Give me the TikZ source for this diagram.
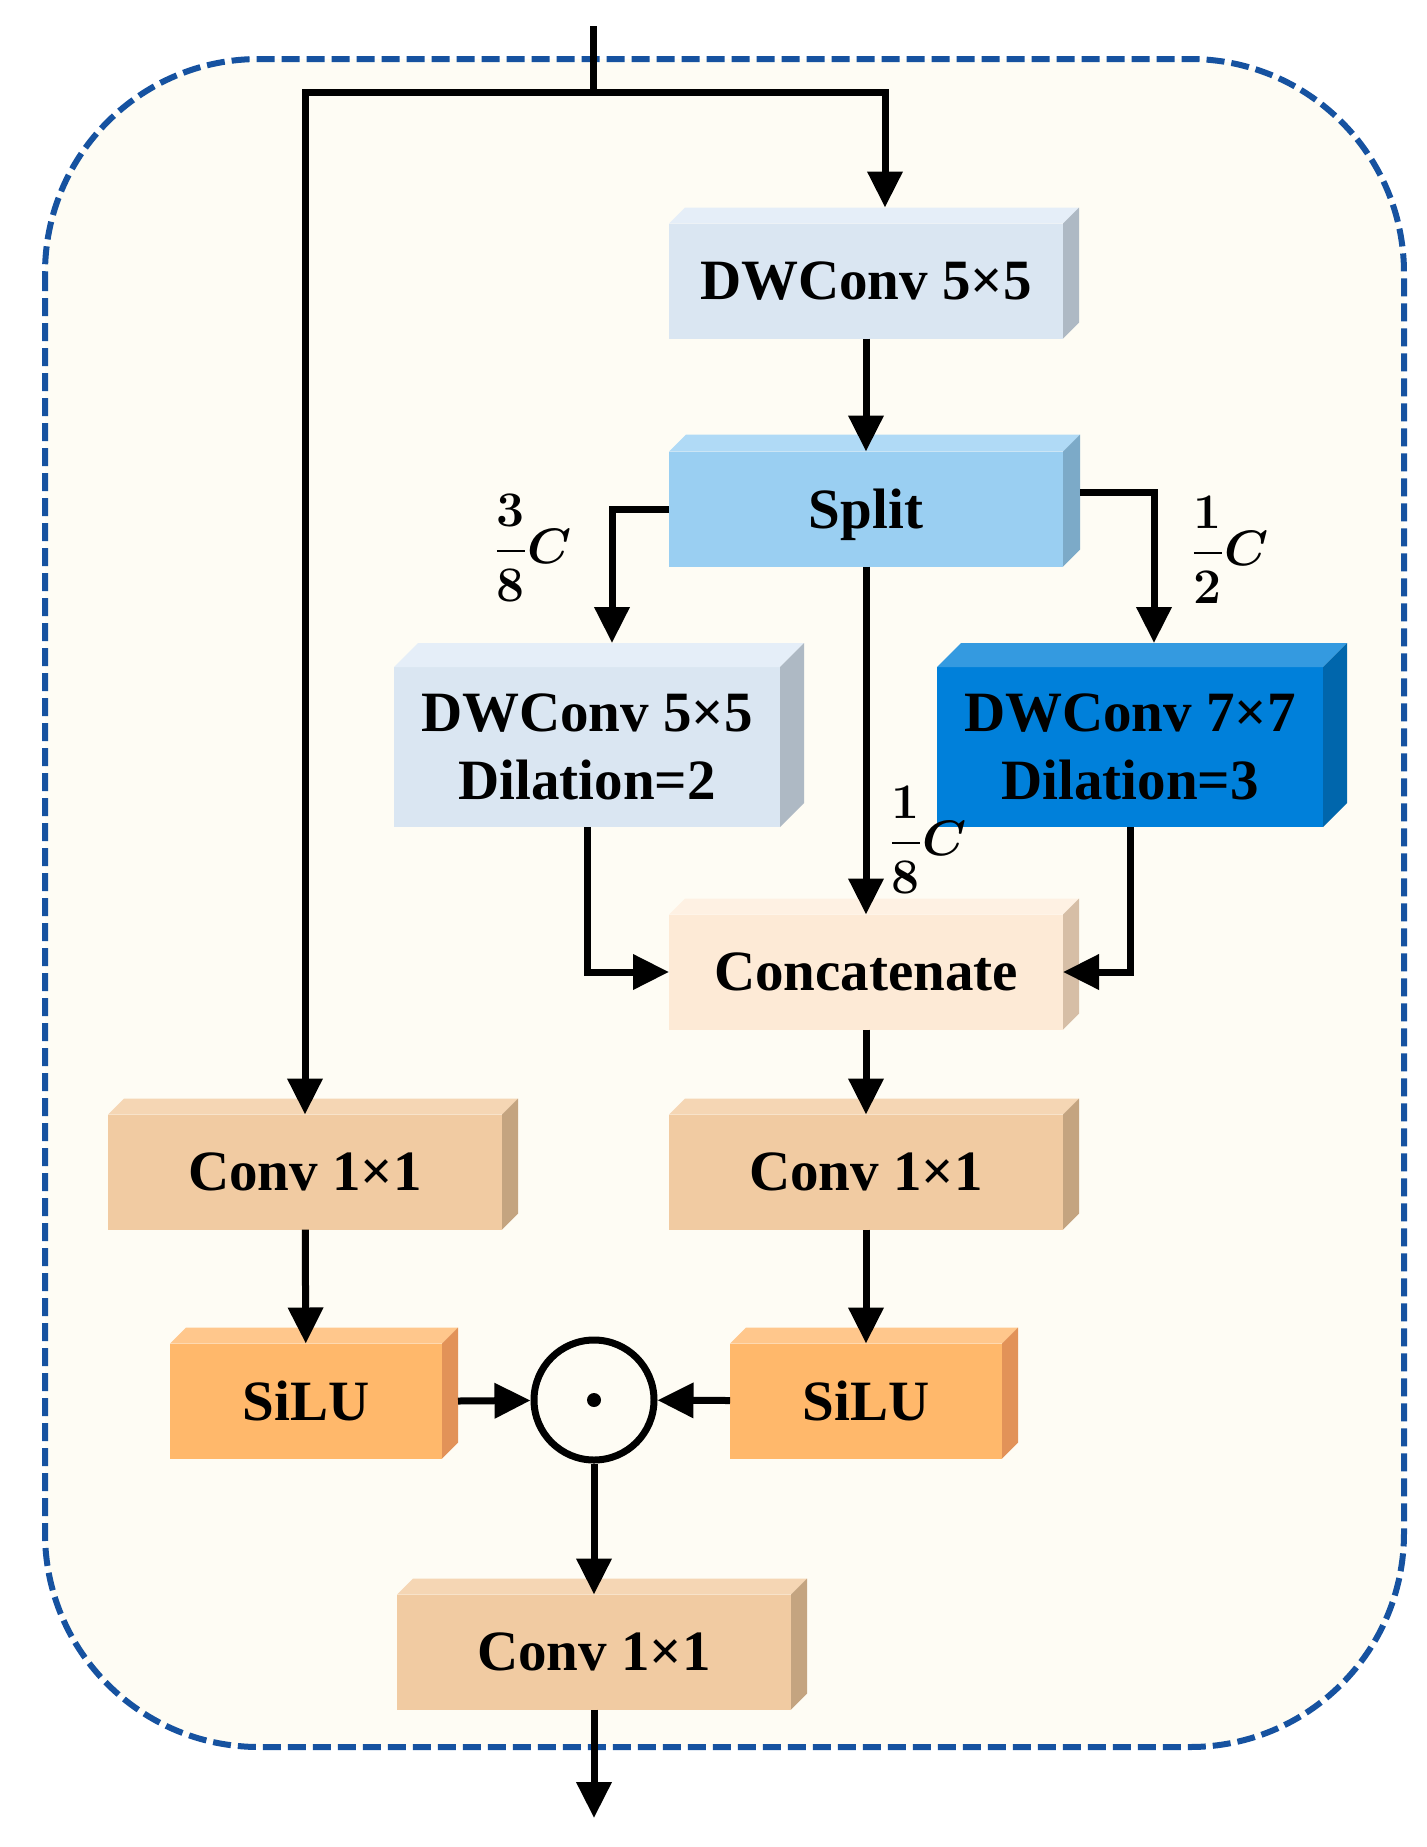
\documentclass[tikz,border=0pt]{standalone}
\usepackage{amsmath}
\usepackage{fontspec}
\setmainfont{Liberation Serif}
\usetikzlibrary{positioning, calc, arrows.meta}

\definecolor{cream}{RGB}{254,252,244}
\definecolor{frameblue}{RGB}{22,82,160}
\definecolor{dwFront}{RGB}{218,230,242}
\definecolor{dwTop}{RGB}{229,238,248}
\definecolor{dwSide}{RGB}{174,185,196}
\definecolor{splitFront}{RGB}{154,207,242}
\definecolor{splitTop}{RGB}{176,218,246}
\definecolor{splitSide}{RGB}{124,170,200}
\definecolor{deepFront}{RGB}{0,128,218}
\definecolor{deepTop}{RGB}{52,154,224}
\definecolor{deepSide}{RGB}{0,102,172}
\definecolor{catFront}{RGB}{253,234,214}
\definecolor{catTop}{RGB}{254,241,227}
\definecolor{catSide}{RGB}{214,190,166}
\definecolor{convFront}{RGB}{241,203,162}
\definecolor{convTop}{RGB}{245,214,180}
\definecolor{convSide}{RGB}{196,164,128}
\definecolor{siluFront}{RGB}{255,184,107}
\definecolor{siluTop}{RGB}{255,199,140}
\definecolor{siluSide}{RGB}{226,146,88}

% top and right faces of a block: node, top colour, side colour, depth
\newcommand{\boxfaces}[4]{%
  \fill[#2] (#1.north west) -- ++(#4,-#4) -- ([shift={(#4,-#4)}]#1.north east) -- (#1.north east) -- cycle;
  \fill[#3] (#1.north east) -- ++(#4,-#4) -- ([shift={(#4,-#4)}]#1.south east) -- (#1.south east) -- cycle;
}

\begin{document}
\begin{tikzpicture}[
    x=0.5pt, y=-0.5pt,
    block/.style={rectangle, inner sep=0pt, outer sep=0pt, minimum width=197pt, minimum height=57.5pt,
      align=center, font=\fontsize{28.5}{34}\selectfont\bfseries},
    widebox/.style={block, minimum width=193pt, minimum height=80pt},
    silubox/.style={block, minimum width=136pt},
    ratio/.style={inner sep=0pt, font=\fontsize{28}{32}\selectfont\boldmath},
    flow/.style={-{Triangle[length=18pt, width=17pt]}, line width=3.5pt},
    frame/.style={draw=frameblue, line width=3pt, dash pattern=on 9pt off 3.5pt, fill=cream, rounded corners=107pt}
]
    \useasboundingbox[fill=white] (0,0) rectangle (1427,1847);
    \path[frame] (45,59) rectangle (1404,1747);

    % Blocks
    \node[block, fill=dwFront] (dwA) at (866,281) {DWConv 5×5};
    \node[block, fill=splitFront, text depth=0pt] (split) at (866,509) {Split};
    \node[widebox, fill=dwFront] (dwB) at (587,747) {DWConv 5×5\\Dilation=2};
    \node[widebox, fill=deepFront] (dwC) at (1130,747) {DWConv 7×7\\Dilation=3};
    \node[block, fill=catFront] (concat) at (866,972) {Concatenate};
    \node[block, fill=convFront] (convL) at (305,1172) {Conv 1×1};
    \node[block, fill=convFront] (convR) at (866,1172) {Conv 1×1};
    \node[silubox, fill=siluFront] (siluL) at (306,1401) {SiLU};
    \node[silubox, fill=siluFront] (siluR) at (866,1401) {SiLU};
    \node[block, fill=convFront] (convB) at (594,1652) {Conv 1×1};
    \node[circle, draw, line width=3.5pt, minimum size=60pt, inner sep=0pt,
      path picture={\fill (path picture bounding box.center) circle (3.5pt);}] (prod) at (594,1400) {};

    \boxfaces{dwA}{dwTop}{dwSide}{16}
    \boxfaces{split}{splitTop}{splitSide}{17}
    \boxfaces{dwB}{dwTop}{dwSide}{24}
    \boxfaces{dwC}{deepTop}{deepSide}{24}
    \boxfaces{concat}{catTop}{catSide}{16}
    \boxfaces{convL}{convTop}{convSide}{16}
    \boxfaces{convR}{convTop}{convSide}{16}
    \boxfaces{siluL}{siluTop}{siluSide}{16}
    \boxfaces{siluR}{siluTop}{siluSide}{16}
    \boxfaces{convB}{convTop}{convSide}{16}

    % Channel ratios
    \node[ratio] (rA) at (533,548) {$\dfrac{3}{8}C$};
    \node[ratio] (rB) at (1230,550) {$\dfrac{1}{2}C$};
    \node[ratio] (rC) at (928,840) {$\dfrac{1}{8}C$};

    % Connectors
    \coordinate (in) at (593,26);
    \coordinate (fork) at (593,92);
    \coordinate (out) at (594,1818);
    \draw[flow] (in) -- (fork) -| (convL);
    \draw[flow] (fork) -| ([shift={(19,-16)}]dwA.north);
    \draw[flow] (dwA) -- (split);
    \draw[flow] (split.west) -| ([shift={(25,-24)}]dwB.north);
    \draw[flow] ([shift={(17,-17)}]split.east) -| ([shift={(24,-24)}]dwC.north);
    \draw[flow] (split) -- (concat);
    \draw[flow] (dwB.south) |- (concat.west);
    \draw[flow] (dwC.south) |- (concat.east);
    \draw[flow] (concat) -- (convR);
    \draw[flow] (convL) -- (siluL);
    \draw[flow] (convR) -- (siluR);
    \draw[flow] ([xshift=8pt]siluL.east) -- (prod);
    \draw[flow] (siluR) -- (prod);
    \draw[flow] (prod) -- (convB);
    \draw[flow] (convB) -- (out);
\end{tikzpicture}
\end{document}
